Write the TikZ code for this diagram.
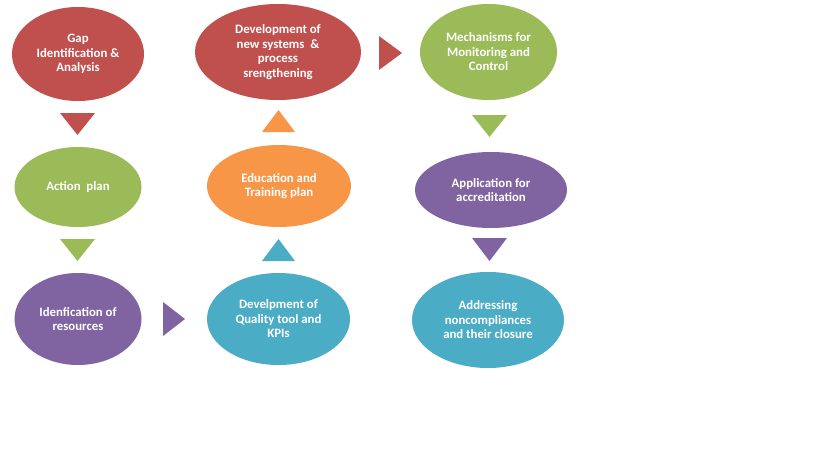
\documentclass[tikz,border=0pt]{standalone}
\usepackage{fontspec}
\setmainfont{Carlito}
\usetikzlibrary{shapes.geometric}
\definecolor{cred}{HTML}{C0504D}
\definecolor{cgreen}{HTML}{9BBB59}
\definecolor{cpurple}{HTML}{8064A2}
\definecolor{corange}{HTML}{F79646}
\definecolor{cblue}{HTML}{4BACC6}
\tikzset{
  oval/.style={ellipse, inner sep=0pt, text=white, align=center,
    font=\fontsize{12.8}{14.5}\selectfont\bfseries},
  tri/.style={draw=none}
}
\begin{document}
\begin{tikzpicture}[x=1pt,y=-1pt]
\useasboundingbox (0,0) rectangle (819,460);
\fill[white] (0,0) rectangle (819,460);
% ellipses
\node[oval, fill=cred, minimum width=132, minimum height=94] (gap) at (78,54) {Gap\\Identification \&\\Analysis};
\node[oval, fill=cred, minimum width=166, minimum height=96] (dev) at (278,52) {Development of\\new systems~~\&\\process\\srengthening};
\node[oval, fill=cgreen, minimum width=137, minimum height=96] (mech) at (488.5,52) {Mechanisms for\\Monitoring and\\Control};
\node[oval, fill=cgreen, minimum width=127, minimum height=80] (act) at (78,187) {Action~~plan};
\node[oval, fill=corange, minimum width=144, minimum height=82] (edu) at (279,186) {Education and\\Training plan};
\node[oval, fill=cpurple, minimum width=152, minimum height=76] (app) at (491,190) {Application for\\accreditation};
\node[oval, fill=cpurple, minimum width=127, minimum height=92] (ide) at (78,319) {Idenfication of\\resources};
\node[oval, fill=cblue, minimum width=143, minimum height=92] (qual) at (278.5,319) {Develpment of\\Quality tool and\\KPIs};
\node[oval, fill=cblue, minimum width=152, minimum height=96] (addr) at (488,320) {Addressing\\noncompliances\\and their closure};
% triangles
\fill[cred] (60,113) -- (95,113) -- (77.5,135) -- cycle;
\fill[cgreen] (60,239) -- (95,239) -- (77.5,261) -- cycle;
\fill[cpurple] (163,302) -- (163,336) -- (185,319) -- cycle;
\fill[cblue] (262,261) -- (295,261) -- (278.5,239) -- cycle;
\fill[corange] (262,132) -- (295,132) -- (278.5,110) -- cycle;
\fill[cred] (379,36) -- (379,70) -- (402,53) -- cycle;
\fill[cgreen] (472,115) -- (507,115) -- (489.5,137) -- cycle;
\fill[cpurple] (472,238) -- (507,238) -- (489.5,261) -- cycle;
\end{tikzpicture}
\end{document}
